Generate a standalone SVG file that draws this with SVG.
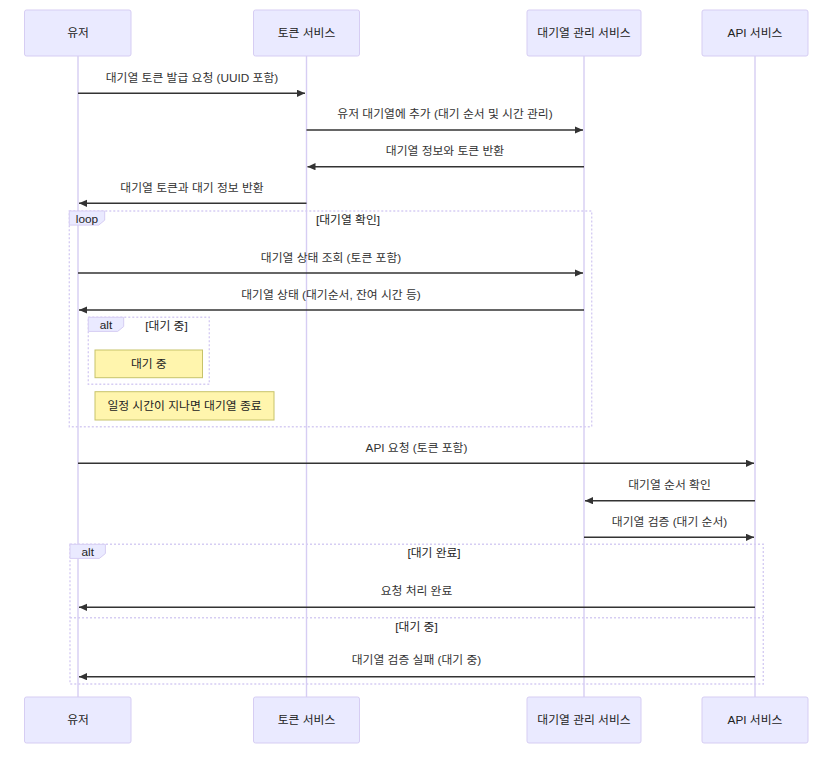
<svg xmlns="http://www.w3.org/2000/svg" width="837" height="757" viewBox="0 0 837 757">
  <style>
    text { font-family: "Liberation Sans", "Noto Sans CJK KR", sans-serif; font-size: 11.8px; fill: #333; text-anchor: middle; dominant-baseline: central; }
    .actor rect { fill: #eaeaff; stroke: #d6cdf3; stroke-width: 1; }
    .actor text { fill: #222; }
    .lifeline { stroke: #d6cdf3; stroke-width: 1.4; }
    .msg { stroke: #333; stroke-width: 1.4; fill: none; marker-end: url(#arrowhead); }
    .frame { fill: none; stroke: #d6cdf3; stroke-width: 1.4; stroke-dasharray: 2 2; }
    .tab { fill: #eaeaff; stroke: #d6cdf3; stroke-width: 1; }
    .tab-label { text-anchor: middle; fill: #222; }
    .title { fill: #222; }
    .note rect { fill: #fff5ad; stroke: #c7c36a; stroke-width: 1; }
    .note text { fill: #222; }
  </style>
  <defs>
    <marker id="arrowhead" markerUnits="userSpaceOnUse" markerWidth="10" markerHeight="10" refX="8" refY="3.6" orient="auto">
      <path d="M0,0 L8,3.6 L0,7.2 z" fill="#333"/>
    </marker>
  </defs>

  <rect width="837" height="757" fill="#fff"/>

  <!-- lifelines -->
  <g id="lifelines">
    <line class="lifeline" x1="78" y1="56" x2="78" y2="697"/>
    <line class="lifeline" x1="306.5" y1="56" x2="306.5" y2="697"/>
    <line class="lifeline" x1="584" y1="56" x2="584" y2="697"/>
    <line class="lifeline" x1="755" y1="56" x2="755" y2="697"/>
  </g>

  <!-- participants, top row -->
  <g id="user-top" class="actor">
    <rect x="24.5" y="10" width="106.5" height="46" rx="2"/>
    <text x="78" y="33">유저</text>
  </g>
  <g id="token-top" class="actor">
    <rect x="253.5" y="10" width="106" height="46" rx="2"/>
    <text x="306.5" y="33">토큰 서비스</text>
  </g>
  <g id="queue-top" class="actor">
    <rect x="527" y="10" width="114" height="46" rx="2"/>
    <text x="584" y="33">대기열 관리 서비스</text>
  </g>
  <g id="api-top" class="actor">
    <rect x="702" y="10" width="106" height="46" rx="2"/>
    <text x="755" y="33">API 서비스</text>
  </g>

  <!-- participants, bottom row -->
  <g id="user-bottom" class="actor">
    <rect x="24.5" y="697" width="106.5" height="46" rx="2"/>
    <text x="78" y="720">유저</text>
  </g>
  <g id="token-bottom" class="actor">
    <rect x="253.5" y="697" width="106" height="46" rx="2"/>
    <text x="306.5" y="720">토큰 서비스</text>
  </g>
  <g id="queue-bottom" class="actor">
    <rect x="527" y="697" width="114" height="46" rx="2"/>
    <text x="584" y="720">대기열 관리 서비스</text>
  </g>
  <g id="api-bottom" class="actor">
    <rect x="702" y="697" width="106" height="46" rx="2"/>
    <text x="755" y="720">API 서비스</text>
  </g>

  <!-- loop frame -->
  <g id="loop-check">
    <rect class="frame" x="69.3" y="211" width="522.4" height="215.7"/>
    <polygon class="tab" points="69.3,211 104.7,211 104.7,220.2 98.7,225.1 69.3,225.1"/>
    <text class="tab-label" x="87" y="218.5">loop</text>
    <text class="title" x="348" y="219.5">[대기열 확인]</text>
  </g>

  <!-- inner alt frame -->
  <g id="alt-waiting">
    <rect class="frame" x="88.3" y="317.3" width="121" height="67"/>
    <polygon class="tab" points="88.3,317.3 123.7,317.3 123.7,326.5 117.7,331.4 88.3,331.4"/>
    <text class="tab-label" x="106" y="325">alt</text>
    <text class="title" x="166.5" y="326">[대기 중]</text>
  </g>

  <!-- notes -->
  <g id="note-waiting" class="note">
    <rect x="95" y="350" width="107.5" height="27.7"/>
    <text x="148.8" y="364">대기 중</text>
  </g>
  <g id="note-timeout" class="note">
    <rect x="95" y="391.7" width="179" height="28.3"/>
    <text x="184.5" y="406">일정 시간이 지나면 대기열 종료</text>
  </g>

  <!-- outer alt frame -->
  <g id="alt-result">
    <rect class="frame" x="70" y="544.3" width="693.3" height="139.7"/>
    <line class="frame" x1="70" y1="617.7" x2="763.3" y2="617.7"/>
    <polygon class="tab" points="70,544.3 105.4,544.3 105.4,553.5 99.4,558.4 70,558.4"/>
    <text class="tab-label" x="87.7" y="552">alt</text>
    <text class="title" x="434" y="552.5">[대기 완료]</text>
    <text class="title" x="416.5" y="627">[대기 중]</text>
  </g>

  <!-- messages -->
  <g id="messages">
    <text x="192" y="77.7">대기열 토큰 발급 요청 (UUID 포함)</text>
    <line class="msg" x1="78" y1="93.3" x2="305" y2="93.3"/>

    <text x="445" y="114">유저 대기열에 추가 (대기 순서 및 시간 관리)</text>
    <line class="msg" x1="306.5" y1="130" x2="583" y2="130"/>

    <text x="445" y="151">대기열 정보와 토큰 반환</text>
    <line class="msg" x1="584" y1="166.7" x2="307.5" y2="166.7"/>

    <text x="192" y="188">대기열 토큰과 대기 정보 반환</text>
    <line class="msg" x1="306.5" y1="203.3" x2="79" y2="203.3"/>

    <text x="331" y="258">대기열 상태 조회 (토큰 포함)</text>
    <line class="msg" x1="78" y1="273" x2="583" y2="273"/>

    <text x="331" y="295">대기열 상태 (대기순서, 잔여 시간 등)</text>
    <line class="msg" x1="584" y1="310" x2="79" y2="310"/>

    <text x="416.5" y="448.3">API 요청 (토큰 포함)</text>
    <line class="msg" x1="78" y1="463.3" x2="754" y2="463.3"/>

    <text x="669.5" y="485">대기열 순서 확인</text>
    <line class="msg" x1="755" y1="500.7" x2="585" y2="500.7"/>

    <text x="669.5" y="522.3">대기열 검증 (대기 순서)</text>
    <line class="msg" x1="584" y1="537.3" x2="754" y2="537.3"/>

    <text x="416.5" y="590.7">요청 처리 완료</text>
    <line class="msg" x1="755" y1="607.3" x2="79" y2="607.3"/>

    <text x="416.5" y="660">대기열 검증 실패 (대기 중)</text>
    <line class="msg" x1="755" y1="676.7" x2="79" y2="676.7"/>
  </g>
</svg>
